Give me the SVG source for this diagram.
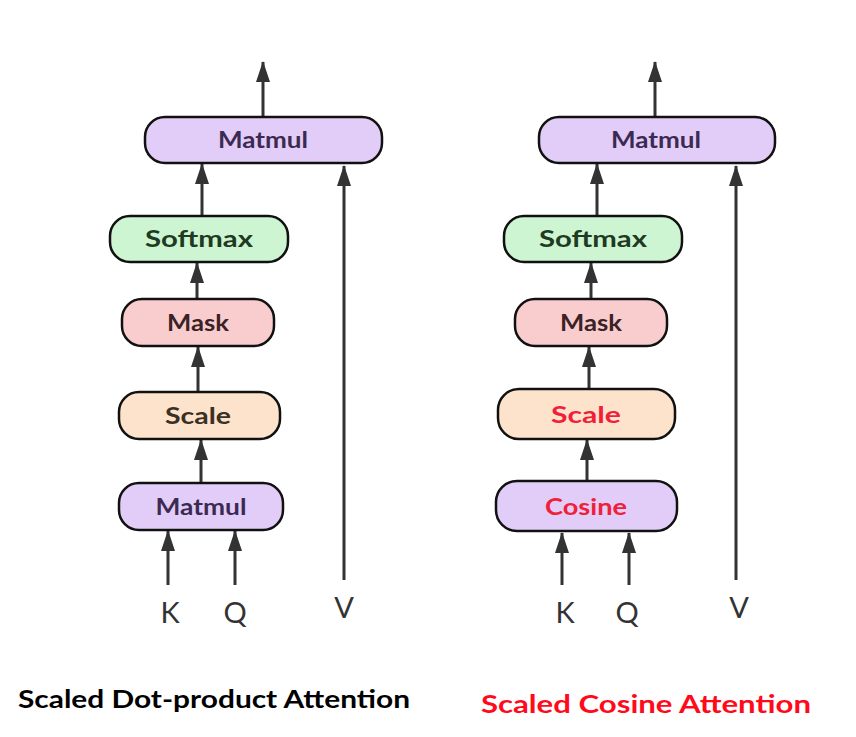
<svg xmlns="http://www.w3.org/2000/svg" width="856" height="737" viewBox="0 0 856 737">
<style>
.box{stroke:#111;stroke-width:2.5}
.purple{fill:#e2cdf8}
.green{fill:#cdf5d2}
.pink{fill:#f9cdcd}
.peach{fill:#fde3cb}
.lbl{font-family:"Comic Sans MS","Lato","DejaVu Sans",sans-serif;font-size:22px;text-anchor:middle;font-weight:bold}
.io{font-family:"Lato","DejaVu Sans",sans-serif;font-size:29px;fill:#333;text-anchor:middle}
.title{font-family:"Comic Sans MS","Lato","DejaVu Sans",sans-serif;font-size:25px}
.conn{stroke:#333;stroke-width:3;fill:none;marker-end:url(#ah)}
</style>
<defs>
<marker id="ah" markerUnits="userSpaceOnUse" markerWidth="22" markerHeight="14" refX="20" refY="7" orient="auto" viewBox="0 0 22 14">
<path d="M0,0 L21,7 L0,14 z" fill="#333"/>
</marker>
</defs>
<rect width="856" height="737" fill="#fff"/>

<g id="connectors">
<path class="conn" d="M263,117 L263,62"/>
<path class="conn" d="M202,215 L202,164"/>
<path class="conn" d="M344,580 L344,166"/>
<path class="conn" d="M197,298 L197,263"/>
<path class="conn" d="M198,391 L198,347"/>
<path class="conn" d="M201,482 L201,440"/>
<path class="conn" d="M168,585 L168,531"/>
<path class="conn" d="M235,585 L235,531"/>

<path class="conn" d="M655,117 L655,62"/>
<path class="conn" d="M597,215 L597,164"/>
<path class="conn" d="M736,580 L736,166"/>
<path class="conn" d="M591,298 L591,263"/>
<path class="conn" d="M589,388 L589,347"/>
<path class="conn" d="M587,480 L587,440"/>
<path class="conn" d="M562,585 L562,533"/>
<path class="conn" d="M629,585 L629,533"/>
</g>

<g id="l-matmul-top">
<rect class="box purple" x="145" y="117" width="237" height="46" rx="20"/>
<text class="lbl" x="263" y="148" fill="#3b2a52" textLength="90" lengthAdjust="spacingAndGlyphs">Matmul</text>
</g>
<g id="l-softmax">
<rect class="box green" x="110" y="216" width="178" height="46" rx="20"/>
<text class="lbl" x="199" y="247" fill="#1f3a22" textLength="108" lengthAdjust="spacingAndGlyphs">Softmax</text>
</g>
<g id="l-mask">
<rect class="box pink" x="122" y="299" width="152" height="47" rx="20"/>
<text class="lbl" x="198" y="331" fill="#3a2226" textLength="62" lengthAdjust="spacingAndGlyphs">Mask</text>
</g>
<g id="l-scale">
<rect class="box peach" x="119" y="392" width="161" height="47" rx="20"/>
<text class="lbl" x="198" y="424" fill="#3a3024" textLength="66" lengthAdjust="spacingAndGlyphs">Scale</text>
</g>
<g id="l-matmul">
<rect class="box purple" x="119" y="483" width="164" height="47" rx="20"/>
<text class="lbl" x="201" y="515" fill="#3b2a52" textLength="91" lengthAdjust="spacingAndGlyphs">Matmul</text>
</g>
<g id="l-inputs">
<text class="io" x="170" y="623">K</text>
<text class="io" x="235" y="623">Q</text>
<text class="io" x="344" y="618">V</text>
</g>

<g id="r-matmul-top">
<rect class="box purple" x="539" y="117" width="236" height="46" rx="20"/>
<text class="lbl" x="656" y="148" fill="#3b2a52" textLength="90" lengthAdjust="spacingAndGlyphs">Matmul</text>
</g>
<g id="r-softmax">
<rect class="box green" x="504" y="216" width="178" height="46" rx="20"/>
<text class="lbl" x="593" y="247" fill="#1f3a22" textLength="108" lengthAdjust="spacingAndGlyphs">Softmax</text>
</g>
<g id="r-mask">
<rect class="box pink" x="515" y="299" width="152" height="47" rx="20"/>
<text class="lbl" x="591" y="331" fill="#3a2226" textLength="62" lengthAdjust="spacingAndGlyphs">Mask</text>
</g>
<g id="r-scale">
<rect class="box peach" x="498" y="389" width="177" height="50" rx="21"/>
<text class="lbl" x="586" y="423" fill="#f0203a" textLength="70" lengthAdjust="spacingAndGlyphs">Scale</text>
</g>
<g id="r-cosine">
<rect class="box purple" x="496" y="481" width="181" height="50" rx="21"/>
<text class="lbl" x="586" y="515" fill="#f0203a" textLength="82" lengthAdjust="spacingAndGlyphs">Cosine</text>
</g>
<g id="r-inputs">
<text class="io" x="565" y="623">K</text>
<text class="io" x="627" y="623">Q</text>
<text class="io" x="739" y="618">V</text>
</g>

<g id="titles">
<text class="title" x="18" y="708" fill="#000" font-weight="bold" textLength="392" lengthAdjust="spacingAndGlyphs">Scaled Dot-product Attention</text>
<text class="title" x="481" y="713" fill="#ff0a1a" font-weight="bold" font-size="27" textLength="330" lengthAdjust="spacingAndGlyphs">Scaled Cosine Attention</text>
</g>
</svg>
